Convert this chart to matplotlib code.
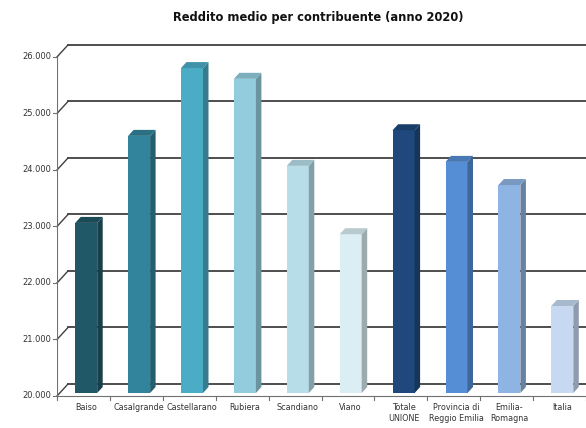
import numpy as np
import matplotlib
matplotlib.use("Agg")
import matplotlib.pyplot as plt
from matplotlib.colors import to_rgb

# dati
categorie = ["Baiso", "Casalgrande", "Castellarano", "Rubiera", "Scandiano", "Viano",
             "Totale\nUNIONE", "Provincia di\nReggio Emilia", "Emilia-\nRomagna", "Italia"]
reddito = [23010, 24550, 25750, 25560, 24020, 22810, 24650, 24090, 23680, 21540]
colori = ["#215868", "#31849B", "#4BACC6", "#93CDDD", "#B7DEE8", "#DAEEF3",
          "#1F497D", "#558ED5", "#8EB4E3", "#C6D9F1"]
y_ticks = [20000, 21000, 22000, 23000, 24000, 25000, 26000]
y_labels = ["20.000", "21.000", "22.000", "23.000", "24.000", "25.000", "26.000"]

W, H = 586, 428
fig = plt.figure(figsize=(W / 100, H / 100), dpi=100)
fig.patch.set_facecolor("white")

# area del grafico in pixel
x0_px, x1_px = 57, 586
y0_px, ytop_px = 396, 40
ymin, ymax = 20000, 26300
ax = fig.add_axes([x0_px / W, (H - y0_px) / H, (x1_px - x0_px) / W, (y0_px - ytop_px) / H])
ax.set_xlim(-0.5, 9.5)
ax.set_ylim(ymin, ymax)
ax.axis("off")

# profondita' 3D (in unita' dati)
px_x = 10 / (x1_px - x0_px)          # unita' categoria per pixel
px_y = (ymax - ymin) / (y0_px - ytop_px)  # unita' valore per pixel
dxw, dyw = 11 * px_x, 12 * px_y

# pareti: griglia e diagonali
for v in y_ticks:
    ax.plot([-0.5, -0.5 + dxw], [v, v + dyw], color="#404040", lw=1.0, zorder=1, clip_on=False)
    ax.plot([-0.5 + dxw, 9.5 + dxw], [v + dyw, v + dyw], color="#404040", lw=1.3,
            zorder=1, clip_on=False)
ax.plot([-0.5, -0.5], [ymin, 26000], color="#707070", lw=0.8, zorder=1)
ax.plot([-0.5, 9.5], [ymin, ymin], color="#707070", lw=0.8, zorder=1, clip_on=False)

# tacche asse y
for v, lab in zip(y_ticks, y_labels):
    ax.plot([-0.5 - 4 * px_x, -0.5], [v, v], color="#707070", lw=0.8, clip_on=False)
    ax.text(-0.5 - 6 * px_x, v, lab, ha="right", va="center", fontsize=6, color="#333333")

# tacche asse x ed etichette
for k in range(11):
    ax.plot([k - 0.5, k - 0.5], [ymin, ymin - 4 * px_y], color="#707070", lw=0.8, clip_on=False)
for i, lab in enumerate(categorie):
    ax.text(i + 0.05, ymin - 7 * px_y, lab, ha="center", va="top", fontsize=5.8,
            color="#333333", linespacing=1.25)


def scurisci(c, f):
    r, g, b = to_rgb(c)
    return (r * f, g * f, b * f)


# barre 3D
larg = 22 * px_x
fx, fy = 0.25 * dxw, 0.25 * dyw
bx, by = 0.5 * dxw, 0.5 * dyw
x = np.arange(len(categorie))
for xi, v, c in zip(x, reddito, colori):
    left = xi - larg / 2 + fx
    right = left + larg
    ax.bar(left, v - ymin, width=larg, bottom=ymin + fy, align="edge", color=c,
           edgecolor="none", zorder=3)
    ax.fill([right, right + bx, right + bx, right], [ymin + fy, ymin + fy + by, v + fy + by, v + fy],
            color=scurisci(c, 0.72), lw=0, zorder=3)
    ax.fill([left, left + bx, right + bx, right], [v + fy, v + fy + by, v + fy + by, v + fy],
            color=scurisci(c, 0.85), lw=0, zorder=3)

fig.text(318 / W, 1 - 18 / H, "Reddito medio per contribuente (anno 2020)", ha="center",
         va="center", fontsize=8.3, fontweight="bold", color="#111111")

fig.savefig("out.png", dpi=100, facecolor="white")
